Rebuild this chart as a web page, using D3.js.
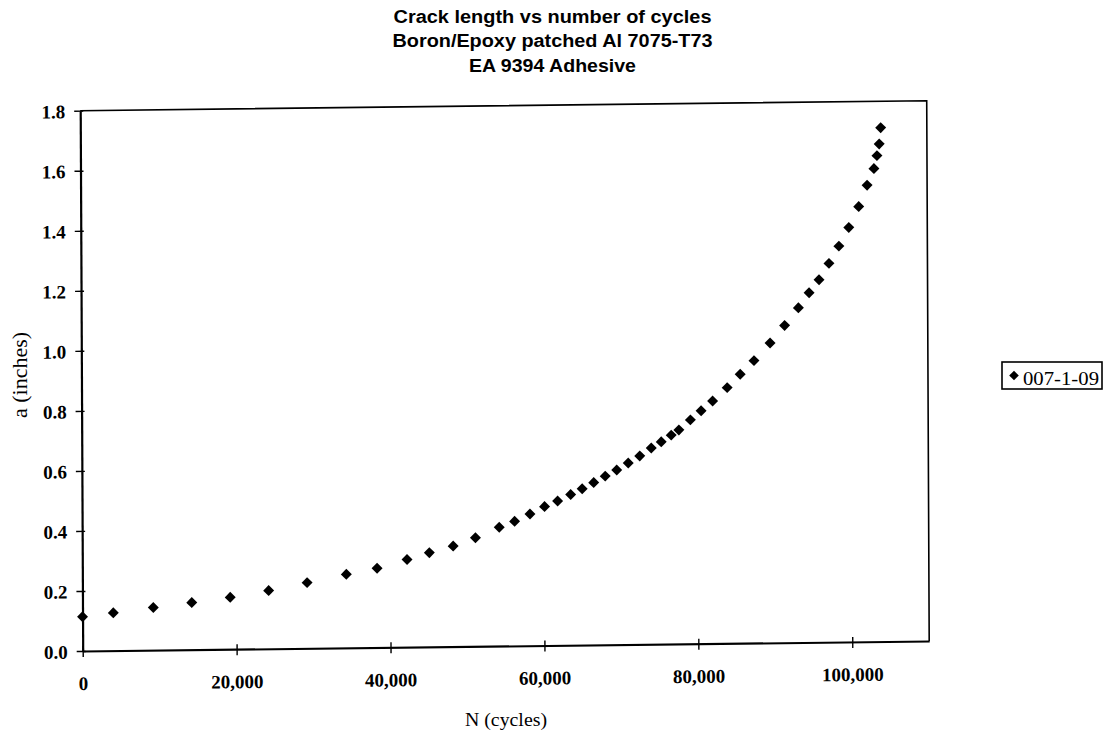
<!DOCTYPE html>
<html>
<head>
<meta charset="utf-8">
<script src="https://cdn.jsdelivr.net/npm/d3@7"></script>
<style>
  html, body { margin: 0; padding: 0; background: #fff; }
  svg { display: block; }
  .tick text { font-family: "Liberation Serif", "Times New Roman", serif; font-weight: bold; font-size: 19px; fill: #000; }
</style>
</head>
<body>
<svg id="chart" width="1106" height="736"></svg>
<script>
// crack length readings, specimen 007-1-09
const cycles = [0, 4000, 9200, 14200, 19200, 24200, 29200, 34300, 38300, 42200,
  45100, 48200, 51100, 54200, 56200, 58200, 60100, 61800, 63500, 65000,
  66500, 68000, 69500, 71000, 72500, 74000, 75300, 76600, 77600, 79100,
  80500, 82000, 83900, 85600, 87400, 89500, 91400, 93200, 94600, 95900,
  97200, 98500, 99800, 101100, 102200, 103100, 103500, 103800, 104000];
const crackLength = [0.114, 0.126, 0.142, 0.157, 0.173, 0.194, 0.219, 0.245, 0.264, 0.292,
  0.314, 0.335, 0.362, 0.396, 0.415, 0.439, 0.463, 0.481, 0.502, 0.521,
  0.541, 0.562, 0.582, 0.605, 0.628, 0.654, 0.674, 0.696, 0.713, 0.746,
  0.776, 0.808, 0.852, 0.896, 0.941, 0.999, 1.057, 1.115, 1.165, 1.208,
  1.262, 1.319, 1.381, 1.450, 1.521, 1.576, 1.619, 1.658, 1.712];
const xTicks = [0, 20000, 40000, 60000, 80000, 100000];
const yTicks = [0, 0.2, 0.4, 0.6, 0.8, 1.0, 1.2, 1.4, 1.6, 1.8];
const titleLines = ["Crack length vs number of cycles", "Boron/Epoxy patched Al 7075-T73", "EA 9394 Adhesive"];
const seriesName = "007-1-09";

// measured widths of the scanned title lines
const titleWidths = [318, 320, 167];

const svg = d3.select("#chart");
svg.append("rect").attr("width", 1106).attr("height", 736).attr("fill", "#fff");

// plot area (the scanned original is slightly skewed)
const W = 846.5, H = 540.3;
const ox = 82.7, oy = 651;
const plot = svg.append("g")
  .attr("transform", `translate(${ox},${oy}) matrix(1,-0.0118,0.0046,1,0,0) translate(0,${-H})`);

const x = d3.scaleLinear().domain([0, 110000]).range([0, W]);
const y = d3.scaleLinear().domain([0, 1.8]).range([H, 0]);

// top and right border of plot area
plot.append("path")
  .attr("d", `M0,0H${W}V${H}`)
  .attr("fill", "none")
  .attr("stroke", "#000")
  .attr("stroke-width", 1.6);

const xAxis = plot.append("g")
  .attr("transform", `translate(0,${H})`)
  .call(d3.axisBottom(x).tickValues(xTicks).tickFormat(d3.format(",")).tickSizeOuter(0));
xAxis.select(".domain").attr("stroke-width", 2.2);
xAxis.selectAll(".tick line").attr("y1", -5).attr("y2", 6).attr("stroke-width", 1.4);
xAxis.selectAll(".tick text").attr("y", 39).attr("dy", 0);

const yAxis = plot.append("g")
  .call(d3.axisLeft(y).tickValues(yTicks).tickFormat(d3.format(".1f")).tickSizeOuter(0));
yAxis.select(".domain").attr("stroke-width", 2.2);
yAxis.selectAll(".tick line").attr("x1", 3).attr("x2", -6).attr("stroke-width", 1.4);
yAxis.selectAll(".tick text").attr("x", -15).attr("dy", "0.36em");

// markers
const diamond = d3.symbol().type(d3.symbolSquare).size(60);
plot.append("g")
  .selectAll("path")
  .data(cycles.map((c, i) => [c, crackLength[i]]))
  .join("path")
  .attr("d", diamond)
  .attr("transform", d => `translate(${x(d[0])},${y(d[1])}) rotate(45)`)
  .attr("fill", "#000");

// titles
svg.append("g")
  .selectAll("text")
  .data(titleLines)
  .join("text")
  .attr("x", 552.5)
  .attr("y", (d, i) => 22.7 + i * 24.5)
  .attr("text-anchor", "middle")
  .attr("font-family", "'Liberation Sans', Arial, sans-serif")
  .attr("font-weight", "bold")
  .attr("font-size", 18)
  .attr("textLength", (d, i) => titleWidths[i])
  .attr("lengthAdjust", "spacingAndGlyphs")
  .text(d => d);

svg.append("text")
  .attr("x", 506)
  .attr("y", 726)
  .attr("text-anchor", "middle")
  .attr("font-family", "'Liberation Serif', 'Times New Roman', serif")
  .attr("font-size", 19)
  .attr("textLength", 82)
  .attr("lengthAdjust", "spacingAndGlyphs")
  .text("N (cycles)");

svg.append("text")
  .attr("transform", "translate(27,375) rotate(-90)")
  .attr("text-anchor", "middle")
  .attr("font-family", "'Liberation Serif', 'Times New Roman', serif")
  .attr("font-size", 20)
  .attr("textLength", 86)
  .attr("lengthAdjust", "spacingAndGlyphs")
  .text("a (inches)");

// legend
const legend = svg.append("g").attr("transform", "translate(1002,362)");
legend.append("rect")
  .attr("width", 100).attr("height", 27)
  .attr("fill", "#fff").attr("stroke", "#000").attr("stroke-width", 1.6);
legend.append("path")
  .attr("d", d3.symbol().type(d3.symbolSquare).size(46))
  .attr("transform", "translate(12,13.5) rotate(45)")
  .attr("fill", "#000");
legend.append("text")
  .attr("x", 21).attr("y", 22.5)
  .attr("font-family", "'Liberation Serif', 'Times New Roman', serif")
  .attr("font-size", 19)
  .attr("textLength", 76)
  .attr("lengthAdjust", "spacingAndGlyphs")
  .text(seriesName);
</script>
</body>
</html>
